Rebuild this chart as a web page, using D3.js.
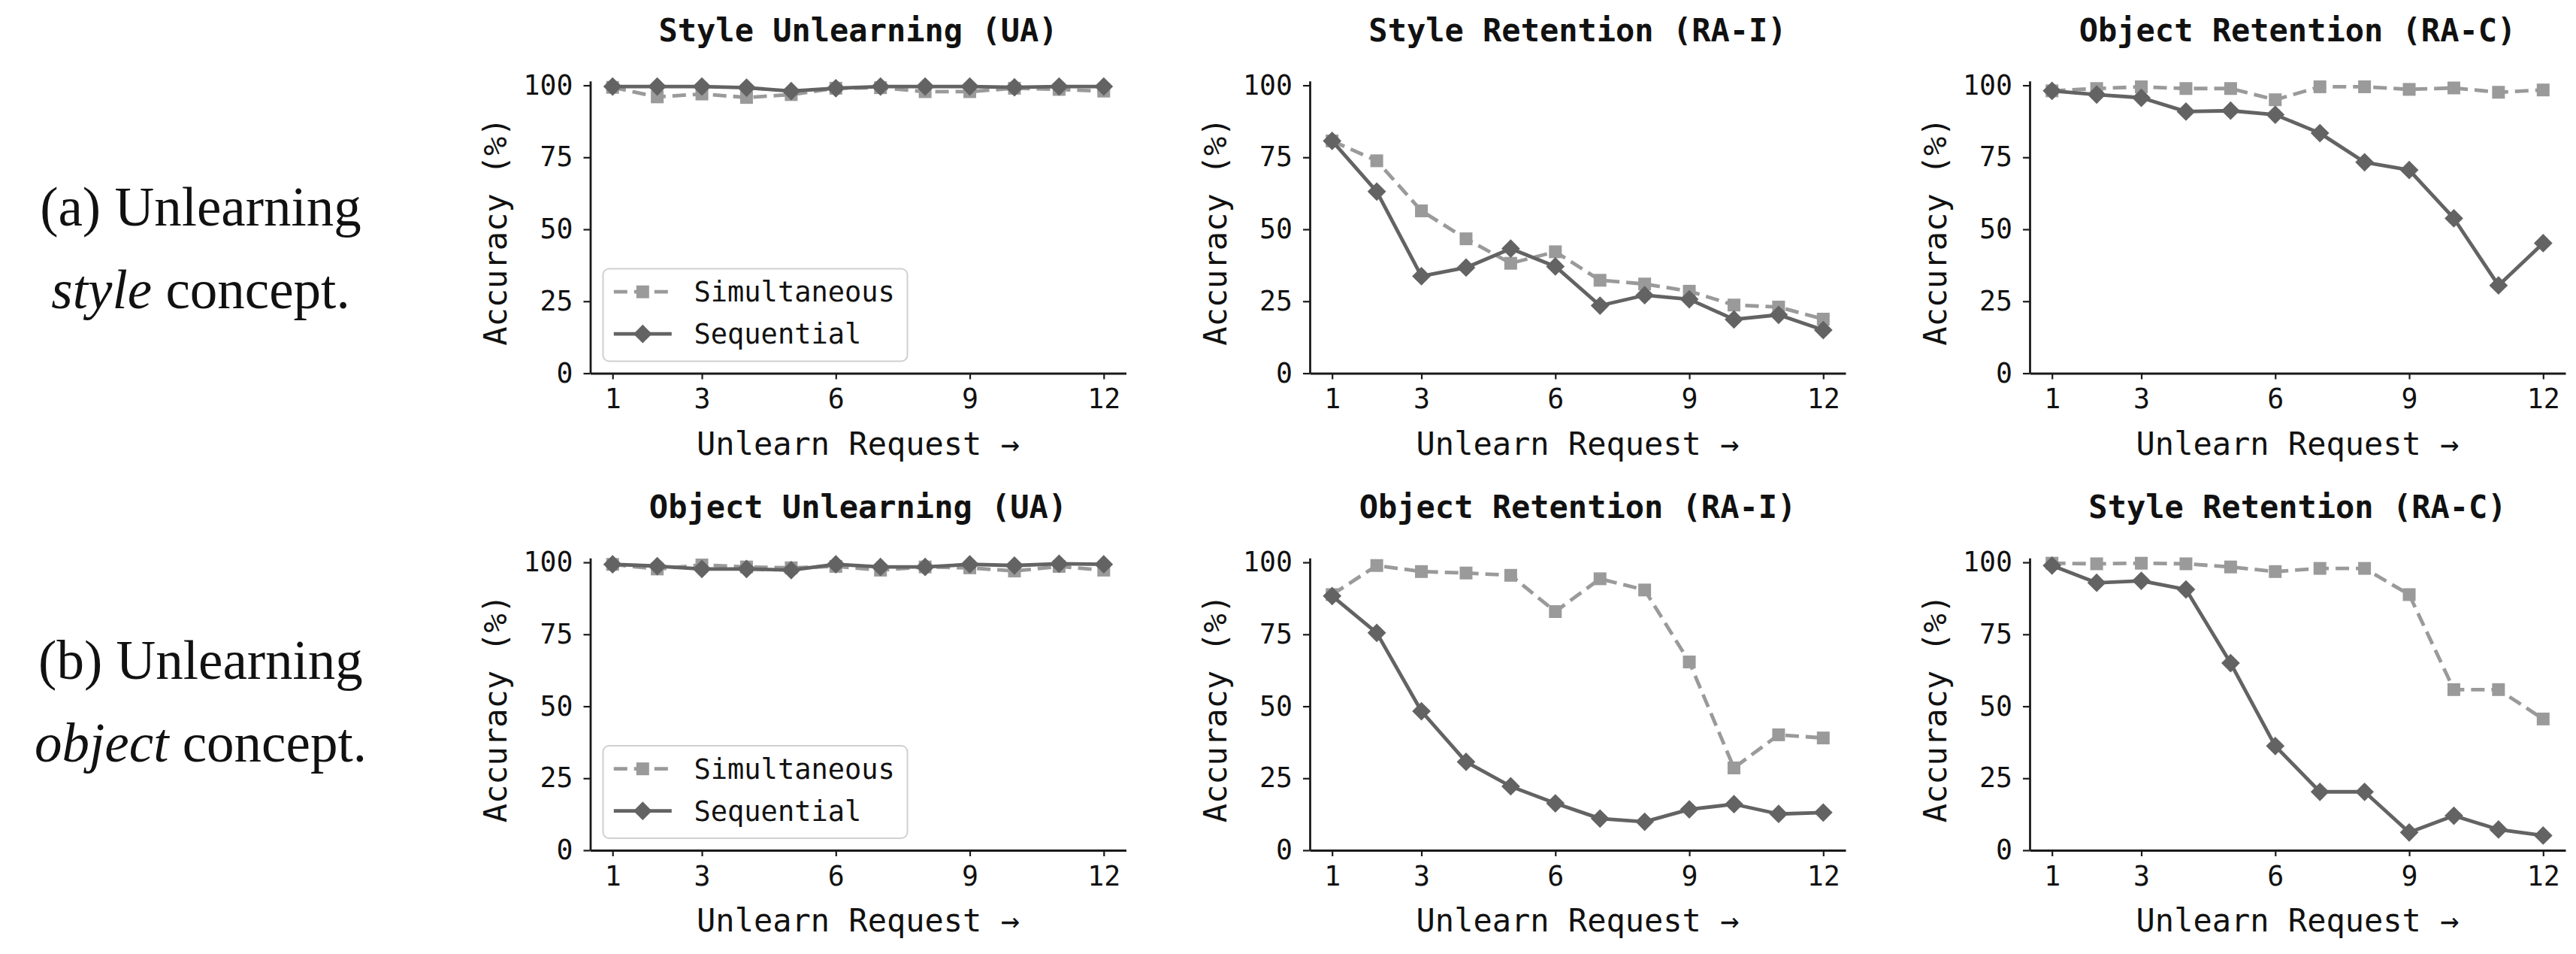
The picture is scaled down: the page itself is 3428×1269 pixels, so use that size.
<!DOCTYPE html>
<html>
<head>
<meta charset="utf-8">
<script src="https://cdn.jsdelivr.net/npm/d3@7"></script>
<style>
body { margin: 0; background: #fff; }
text { font-family: "DejaVu Sans Mono", monospace; fill: #111; }
.side { font-family: "Liberation Serif", "Times New Roman", serif; }
</style>
</head>
<body>
<svg id="fig" width="3428" height="1269"></svg>
<script>
// x categories and ticks
var requests = [1, 2, 3, 4, 5, 6, 7, 8, 9, 10, 11, 12];
var xTicks = [1, 3, 6, 9, 12];
var yTicks = [0, 25, 50, 75, 100];
var seriesNames = ["Simultaneous", "Sequential"];

// (a) unlearning style concept
var styleUA_sim   = [99.3, 96.0, 97.0, 95.8, 96.8, 99.0, 99.2, 97.8, 97.8, 99.0, 98.6, 98.0];
var styleUA_seq   = [99.6, 99.6, 99.6, 99.2, 98.0, 99.0, 99.6, 99.6, 99.6, 99.3, 99.6, 99.6];
var styleRAI_sim  = [80.7, 73.8, 56.4, 46.7, 38.2, 42.2, 32.3, 31.0, 28.5, 23.7, 23.0, 18.8];
var styleRAI_seq  = [80.7, 63.1, 33.7, 36.7, 43.3, 37.1, 23.5, 27.1, 25.7, 18.7, 20.3, 15.0];
var objRAC_sim    = [98.1, 98.9, 99.5, 98.9, 98.9, 95.0, 99.5, 99.5, 98.6, 99.1, 97.6, 98.4];
var objRAC_seq    = [98.1, 96.8, 95.7, 90.9, 91.2, 89.8, 83.4, 73.3, 70.6, 53.8, 30.5, 45.2];

// (b) unlearning object concept
var objUA_sim     = [99.3, 97.7, 99.1, 98.4, 98.1, 98.6, 97.3, 98.4, 98.1, 97.0, 98.6, 97.3];
var objUA_seq     = [99.3, 98.7, 97.7, 97.7, 97.3, 99.3, 98.4, 98.4, 99.3, 98.9, 99.5, 99.3];
var objRAI_sim    = [88.8, 98.9, 96.8, 96.3, 95.5, 82.9, 94.3, 90.4, 65.4, 28.6, 40.1, 39.0];
var objRAI_seq    = [88.3, 75.5, 48.3, 30.7, 22.2, 16.3, 11.0,  9.9, 14.2, 16.0, 12.6, 13.1];
var styleRAC_sim  = [99.7, 99.5, 99.7, 99.5, 98.4, 96.8, 97.9, 97.9, 88.8, 55.8, 55.8, 45.6];
var styleRAC_seq  = [98.9, 92.9, 93.6, 90.6, 65.0, 36.2, 20.3, 20.3,  6.2, 12.0,  7.2,  5.1];

var panels = [
  {row: 0, col: 0, title: "Style Unlearning (UA)",   sim: styleUA_sim,  seq: styleUA_seq,  legend: true},
  {row: 0, col: 1, title: "Style Retention (RA-I)",  sim: styleRAI_sim, seq: styleRAI_seq},
  {row: 0, col: 2, title: "Object Retention (RA-C)", sim: objRAC_sim,   seq: objRAC_seq},
  {row: 1, col: 0, title: "Object Unlearning (UA)",  sim: objUA_sim,    seq: objUA_seq,    legend: true},
  {row: 1, col: 1, title: "Object Retention (RA-I)", sim: objRAI_sim,   seq: objRAI_seq},
  {row: 1, col: 2, title: "Style Retention (RA-C)",  sim: styleRAC_sim, seq: styleRAC_seq}
];

var colLeft = [785.5, 1743, 2701],
    rowBottom = [496.5, 1131],
    width = 713,
    height = 388.7;

var simColor = "#9a9a9a", seqColor = "#636363", axisColor = "#1a1a1a";

var svg = d3.select("#fig");

var x = d3.scaleLinear().domain([0.5, 12.5]).range([0, width]);
var y = d3.scaleLinear().domain([0, 101.5]).range([height, 0]);

var line = function(vals) {
  return d3.line()
    .x(function(d, i) { return x(requests[i]); })
    .y(function(d) { return y(d); })(vals);
};

var square = d3.symbol().type(d3.symbolSquare).size(17 * 17);
var diamond = d3.symbol().type(d3.symbolSquare).size(17.5 * 17.5);

function drawSeries(g, vals, kind) {
  var color = kind === "sim" ? simColor : seqColor;
  g.append("path")
    .attr("d", line(vals))
    .attr("fill", "none")
    .attr("stroke", color)
    .attr("stroke-width", 4.8)
    .attr("stroke-linejoin", "round")
    .attr("stroke-dasharray", kind === "sim" ? "18,9" : null);
  g.selectAll("path.m-" + kind)
    .data(vals)
    .enter().append("path")
    .attr("class", "m-" + kind)
    .attr("d", kind === "sim" ? square : diamond)
    .attr("fill", color)
    .attr("transform", function(d, i) {
      return "translate(" + x(requests[i]) + "," + y(d) + ")" + (kind === "seq" ? " rotate(45)" : "");
    });
}

panels.forEach(function(p) {
  var g = svg.append("g")
    .attr("transform", "translate(" + colLeft[p.col] + "," + (rowBottom[p.row] - height) + ")");

  // axes
  var gx = g.append("g")
    .attr("transform", "translate(0," + height + ")")
    .call(d3.axisBottom(x).tickValues(xTicks).tickSize(8).tickSizeOuter(0).tickPadding(13));
  var gy = g.append("g")
    .call(d3.axisLeft(y).tickValues(yTicks).tickSize(9).tickSizeOuter(0).tickPadding(14));
  [gx, gy].forEach(function(a) {
    a.select(".domain").attr("stroke", axisColor).attr("stroke-width", 2.8);
    a.selectAll(".tick line").attr("stroke", axisColor).attr("stroke-width", 2.2);
    a.selectAll(".tick text")
      .style("font-family", "'DejaVu Sans Mono', monospace")
      .style("font-size", "36.5px")
      .attr("fill", "#111");
  });

  // series
  drawSeries(g, p.sim, "sim");
  drawSeries(g, p.seq, "seq");

  // title
  g.append("text")
    .attr("x", width / 2)
    .attr("y", -53)
    .attr("text-anchor", "middle")
    .style("font-size", "42px")
    .style("font-weight", "bold")
    .text(p.title);

  // x label
  g.append("text")
    .attr("x", width / 2)
    .attr("y", height + 108.5)
    .attr("text-anchor", "middle")
    .style("font-size", "42px")
    .text("Unlearn Request \u2192");

  // y label
  g.append("text")
    .attr("transform", "rotate(-90)")
    .attr("x", -(y(50) + 3))
    .attr("y", -111.5)
    .attr("text-anchor", "middle")
    .style("font-size", "42px")
    .text("Accuracy (%)");

  if (p.legend) {
    var lg = g.append("g").attr("transform", "translate(17," + (height - 16 - 123) + ")");
    lg.append("rect")
      .attr("width", 405).attr("height", 123).attr("rx", 8)
      .attr("fill", "#fff").attr("fill-opacity", 0.8)
      .attr("stroke", "#d0d0d0").attr("stroke-width", 2);
    seriesNames.forEach(function(name, i) {
      var kind = i === 0 ? "sim" : "seq";
      var color = i === 0 ? simColor : seqColor;
      var cy = 30.7 + i * 56;
      lg.append("line")
        .attr("x1", 14.3).attr("x2", 91.3)
        .attr("y1", cy).attr("y2", cy)
        .attr("stroke", color).attr("stroke-width", 4.8)
        .attr("stroke-dasharray", kind === "sim" ? "18,9" : null);
      lg.append("path")
        .attr("d", kind === "sim" ? square : diamond)
        .attr("fill", color)
        .attr("transform", "translate(52.8," + cy + ")" + (kind === "seq" ? " rotate(45)" : ""));
      lg.append("text")
        .attr("x", 121).attr("y", cy)
        .attr("dy", "0.35em")
        .style("font-size", "37px")
        .text(name);
    });
  }
});

// row captions on the left
var captions = [
  {first: "(a) Unlearning", em: "style",  rest: " concept.", y: 300},
  {first: "(b) Unlearning", em: "object", rest: " concept.", y: 903}
];
captions.forEach(function(c) {
  svg.append("text").attr("class", "side")
    .attr("x", 267).attr("y", c.y)
    .attr("text-anchor", "middle")
    .style("font-size", "73px")
    .text(c.first);
  var t2 = svg.append("text").attr("class", "side")
    .attr("x", 267).attr("y", c.y + 110)
    .attr("text-anchor", "middle")
    .style("font-size", "73px");
  t2.append("tspan").style("font-style", "italic").text(c.em);
  t2.append("tspan").text(c.rest);
});
</script>
</body>
</html>
